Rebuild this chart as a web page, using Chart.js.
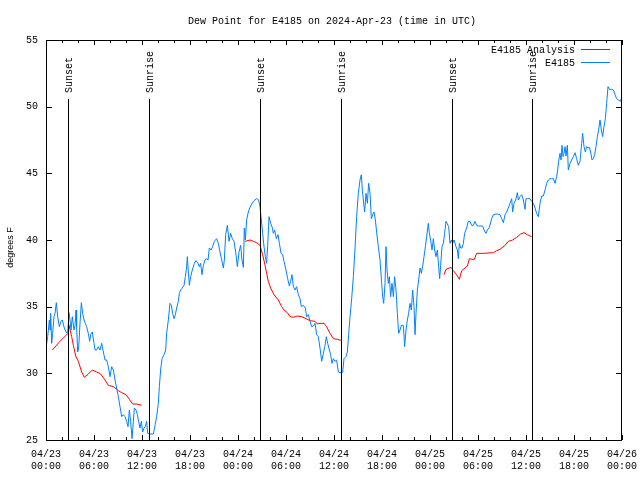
<!DOCTYPE html>
<html>
<head>
<meta charset="utf-8">
<script src="https://cdn.jsdelivr.net/npm/chart.js@4.4.1/dist/chart.umd.min.js"></script>
<style>
html,body{margin:0;padding:0;background:#fff;}
#wrap{width:640px;height:480px;position:relative;}
</style>
</head>
<body>
<div id="wrap"><canvas id="c" width="640" height="480"></canvas></div>
<script>
// ---- text ----
const chartTitle = "Dew Point for E4185 on 2024-Apr-23 (time in UTC)";
const yAxisTitle = "degrees F";
const seriesNames = ["E4185 Analysis", "E4185"];
const seriesColors = ["#ff0000", "#0080ff"];

// x axis: hours since 04/23 00:00 UTC
const xTickLabels = [
  ["04/23","00:00"],["04/23","06:00"],["04/23","12:00"],["04/23","18:00"],
  ["04/24","00:00"],["04/24","06:00"],["04/24","12:00"],["04/24","18:00"],
  ["04/25","00:00"],["04/25","06:00"],["04/25","12:00"],["04/25","18:00"],
  ["04/26","00:00"]
];
const yTickValues = [25, 30, 35, 40, 45, 50, 55];

// sunrise / sunset markers (hours)
const sunHours  = [2.79, 12.92, 26.79, 36.92, 50.79, 60.79];
const sunLabels = ["Sunset","Sunrise","Sunset","Sunrise","Sunset","Sunrise"];

// observed dew point (E4185)
const obsHours = [
0.0,0.21,0.42,0.5,0.58,0.71,0.83,1.0,1.13,1.29,1.46,1.67,1.88,2.04,2.29,2.5,2.71,2.88,3.0,3.13,3.29,3.5,3.63,3.75,3.83,3.96,4.08,4.25,4.42,4.58,4.75,4.92,5.08,5.29,5.46,5.58,5.79,6.0,6.13,6.33,6.54,6.75,6.96,7.17,7.38,7.58,7.79,8.0,8.21,8.42,8.63,8.83,9.04,9.25,9.46,9.67,9.88,10.08,10.25,10.42,10.58,10.75,10.92,11.04,11.25,11.42,11.58,11.75,11.92,12.08,12.25,12.42,12.58,12.71,13.0,13.42,13.63,13.83,14.04,14.17,14.33,14.5,14.75,14.96,15.08,15.29,15.5,15.67,15.83,16.0,16.17,16.33,16.54,16.67,16.83,17.04,17.25,17.42,17.58,17.67,17.79,17.92,18.08,18.29,18.54,18.75,19.0,19.17,19.33,19.5,19.67,19.88,20.04,
20.25,20.42,20.63,20.83,21.04,21.33,21.54,21.75,21.96,22.17,22.29,22.46,22.67,22.88,23.08,23.29,23.5,23.71,23.92,24.13,24.33,24.5,24.67,24.79,24.92,25.08,25.29,25.5,25.71,26.0,26.33,26.58,26.75,26.92,27.08,27.25,27.42,27.58,27.71,27.88,28.08,28.25,28.42,28.58,28.79,29.0,29.17,29.38,29.58,29.75,30.0,30.21,30.42,30.58,30.75,30.92,31.13,31.33,31.54,31.75,31.92,32.17,32.42,32.58,32.79,33.0,33.21,33.42,33.63,33.83,34.04,34.25,34.46,34.67,34.88,35.04,35.21,35.42,35.58,35.75,35.92,36.13,36.33,36.54,36.75,37.08,37.25,37.5,37.67,37.83,38.0,38.21,38.42,38.63,38.83,
39.04,39.25,39.42,39.54,39.67,39.83,40.0,40.17,40.33,40.5,40.67,40.83,41.0,41.17,41.33,41.54,41.75,41.96,42.08,42.21,42.38,42.5,42.63,42.79,42.92,43.08,43.25,43.42,43.58,43.75,43.92,44.08,44.25,44.42,44.67,44.83,45.0,45.17,45.33,45.5,45.67,45.83,46.0,46.13,46.25,46.42,46.58,46.75,46.92,47.08,47.25,47.42,47.58,47.79,47.92,48.08,48.25,48.42,48.58,48.75,48.92,49.08,49.21,49.33,49.5,49.67,49.83,50.0,50.17,50.33,50.5,50.67,50.83,51.0,51.25,51.42,51.54,51.67,51.83,52.0,52.17,52.33,52.58,52.79,53.0,53.21,53.42,53.63,53.83,54.04,54.25,54.58,54.75,55.0,55.17,55.42,
55.71,55.92,56.33,56.75,56.96,57.17,57.38,57.58,57.79,58.0,58.21,58.33,58.5,58.71,58.92,59.04,59.25,59.46,59.67,59.88,60.0,60.17,60.5,60.71,60.92,61.13,61.33,61.54,61.75,61.96,62.17,62.38,62.58,62.79,63.0,63.21,63.42,63.63,63.83,63.96,64.08,64.25,64.38,64.5,64.63,64.75,64.88,65.0,65.17,65.29,65.5,65.71,65.92,66.13,66.33,66.54,66.75,66.96,67.08,67.25,67.42,67.58,67.75,67.92,68.08,68.25,68.42,68.58,68.75,68.92,69.08,69.25,69.42,69.58,69.75,69.92,70.08,70.25,70.42,70.71,70.92,71.13,71.33,71.54,71.79,71.92
];
const obsValues = [
31.9,32.75,34.0,33.25,34.5,32.25,33.0,34.25,34.5,35.3,34.25,33.5,33.9,34.0,33.4,33.1,33.0,34.55,34.0,33.25,34.25,33.25,33.6,34.75,33.5,31.6,31.9,33.75,35.3,34.5,34.0,33.75,33.5,33.0,32.4,32.9,33.1,32.25,31.75,31.75,32.0,31.75,32.25,31.6,31.0,31.0,30.5,29.75,30.5,30.25,29.5,28.9,28.25,27.5,26.75,26.9,26.75,26.4,26.0,27.25,26.4,25.1,26.4,27.4,27.25,26.9,26.4,25.9,26.4,25.6,25.9,26.0,26.4,25.5,25.45,25.45,26.1,26.75,27.75,29.0,30.25,31.1,31.4,31.75,33.0,34.0,35.25,35.1,34.5,34.1,34.4,34.9,35.4,36.0,36.25,36.4,36.6,37.25,38.0,38.75,37.6,36.6,37.25,37.75,38.25,38.45,38.25,38.0,38.25,37.4,38.1,38.5,38.6,
38.5,39.4,39.25,39.5,39.9,40.1,39.75,39.1,38.5,37.9,38.5,40.4,41.1,39.9,40.5,40.1,39.9,39.1,38.0,39.1,39.6,38.5,37.95,40.9,40.0,41.5,42.1,42.45,42.7,42.95,43.1,43.0,42.5,41.5,40.5,39.5,38.75,38.25,39.6,41.75,41.25,41.0,40.5,40.75,40.1,40.4,39.75,39.0,38.9,38.4,37.75,37.1,36.55,36.9,37.4,36.5,36.25,36.5,35.9,35.6,35.0,35.1,34.9,34.25,34.4,33.9,33.5,33.55,33.75,32.9,32.75,31.9,30.9,31.5,32.1,32.75,32.25,31.75,31.4,30.75,31.1,30.9,31.0,30.1,30.05,30.05,31.1,31.25,31.6,32.9,34.25,35.6,37.25,39.4,41.75,
43.5,44.5,44.9,43.75,43.0,42.1,43.5,42.75,44.25,43.5,41.6,41.9,42.1,41.5,40.6,39.5,38.5,36.75,35.75,35.25,36.75,39.5,37.75,36.75,37.25,35.75,36.75,35.75,37.25,36.25,34.5,33.0,33.25,33.6,33.6,32.0,33.25,34.0,34.5,35.25,34.75,36.25,35.0,32.9,34.5,36.25,37.0,37.9,37.5,38.0,38.75,39.5,40.25,41.25,40.5,40.0,39.25,40.1,39.25,38.75,39.25,38.0,37.1,38.1,39.5,39.75,40.5,41.4,41.2,41.0,39.75,40.0,39.75,40.0,39.5,39.25,38.6,39.75,39.4,39.4,39.75,40.5,40.9,41.4,41.4,41.1,41.1,41.4,41.1,41.05,41.05,41.05,40.75,40.5,40.75,40.95,
41.6,41.9,41.95,41.9,41.6,41.3,41.9,42.1,42.4,42.75,43.1,42.1,42.75,43.0,43.55,43.0,43.25,43.4,43.0,42.3,43.1,43.1,43.1,42.9,42.75,42.4,42.0,41.75,42.75,43.3,43.3,43.75,44.25,44.5,44.6,44.6,44.6,44.25,44.75,45.25,45.9,46.5,46.0,47.1,46.25,46.5,47.0,46.3,47.1,45.25,45.75,46.0,46.25,46.55,46.1,45.6,45.9,47.25,48.0,47.0,46.6,47.0,46.9,46.95,46.6,46.0,46.1,46.4,47.0,47.75,48.25,49.0,48.25,47.75,48.5,49.1,50.25,51.5,51.3,51.3,51.25,50.9,50.6,50.5,50.4,50.6
];

// analysis dew point (E4185 Analysis); null marks a gap
const anaHours = [
0.79,1.75,2.75,2.88,3.21,3.42,3.71,4.04,4.46,4.79,5.29,5.79,6.33,6.83,7.38,7.79,8.42,9.04,9.46,10.0,10.42,10.83,11.33,11.96,
18.0,
24.88,25.5,25.92,26.33,26.75,27.08,27.38,27.58,27.79,28.08,28.5,29.04,29.46,29.75,30.17,30.5,30.92,31.42,31.96,32.5,33.0,33.63,33.92,34.25,34.75,35.08,35.5,35.92,36.42,36.96,
43.0,
49.75,50.0,50.63,50.92,51.33,51.67,51.96,52.38,52.67,52.92,53.25,53.54,53.83,54.67,55.92,56.33,56.75,57.38,57.79,58.33,58.83,59.33,59.75,60.17,60.5,60.71
];
const anaValues = [
31.75,32.4,33.0,33.6,32.75,32.1,31.3,30.9,30.1,29.7,29.95,30.25,30.1,29.95,29.5,29.1,29.0,28.7,28.55,28.4,28.05,27.7,27.7,27.6,
null,
39.9,40.0,39.9,39.8,39.6,38.9,38.1,37.5,36.9,36.4,35.9,35.5,35.0,34.75,34.55,34.25,34.2,34.3,34.25,34.1,33.95,33.9,33.7,33.75,33.75,33.5,33.0,32.6,32.55,32.45,
null,
37.4,37.8,37.95,37.7,37.4,37.05,37.7,37.9,38.05,38.6,38.55,38.55,39.0,39.0,39.05,39.2,39.3,39.6,39.9,40.0,40.2,40.45,40.55,40.4,40.3,40.25
];

const MONO = "'Liberation Mono', 'DejaVu Sans Mono', monospace";
const SANS = "'Liberation Sans', Arial, sans-serif";

const toXY = (xs, ys) => xs.map((x, i) => ({x: x, y: ys[i]}));

const decorPlugin = {
  id: 'decor',
  afterDatasetsDraw(chart) {
    const ctx = chart.ctx;
    const xs = chart.scales.x, ys = chart.scales.y;
    const L = Math.round(xs.left), R = Math.round(xs.right);
    const T = Math.round(ys.top), B = Math.round(ys.bottom);
    ctx.save();
    ctx.strokeStyle = '#000';
    ctx.lineWidth = 1;
    // sunrise / sunset lines
    ctx.fillStyle = '#000';
    ctx.font = '10px ' + MONO;
    sunHours.forEach((h, i) => {
      const px = Math.round(xs.getPixelForValue(h)) + 0.5;
      ctx.beginPath();
      ctx.moveTo(px, 99);
      ctx.lineTo(px, B);
      ctx.stroke();
      ctx.save();
      ctx.translate(px + 0.5, 93);
      ctx.rotate(-Math.PI / 2);
      ctx.textAlign = 'left';
      ctx.textBaseline = 'middle';
      ctx.fillText(sunLabels[i], 0, 0);
      ctx.restore();
    });
    // frame
    ctx.beginPath();
    ctx.rect(L + 0.5, T + 0.5, R - L - 1, B - T);
    ctx.stroke();
    // x ticks (major every 6 h, minor every 2 h), bottom and top, inward
    ctx.beginPath();
    for (let h = 0; h <= 72; h += 2) {
      const px = Math.round(xs.getPixelForValue(h)) + 0.5;
      const len = (h % 6 === 0) ? 5 : 3;
      ctx.moveTo(px, B); ctx.lineTo(px, B - len);
      ctx.moveTo(px, T); ctx.lineTo(px, T + len);
    }
    // y ticks, left and right, inward
    yTickValues.forEach(v => {
      const py = Math.round(ys.getPixelForValue(v)) + 0.5;
      ctx.moveTo(L, py); ctx.lineTo(L + 6, py);
      ctx.moveTo(R, py); ctx.lineTo(R - 6, py);
    });
    ctx.stroke();
    // legend
    ctx.font = '10px ' + MONO;
    ctx.textAlign = 'right';
    ctx.textBaseline = 'middle';
    const legY = [50, 63];
    seriesNames.forEach((name, i) => {
      ctx.fillStyle = '#000';
      ctx.fillText(name, 575, legY[i]);
      ctx.strokeStyle = seriesColors[i];
      ctx.beginPath();
      ctx.moveTo(581, legY[i] - 0.5);
      ctx.lineTo(610, legY[i] - 0.5);
      ctx.stroke();
    });
    // title
    ctx.fillStyle = '#000';
    ctx.textAlign = 'center';
    ctx.textBaseline = 'middle';
    ctx.font = '10px ' + MONO;
    ctx.fillText(chartTitle, 332, 21);
    // y axis title
    ctx.save();
    ctx.translate(13, 247.5);
    ctx.rotate(-Math.PI / 2);
    ctx.font = '9px ' + SANS;
    ctx.textAlign = 'center';
    ctx.textBaseline = 'alphabetic';
    ctx.fillText(yAxisTitle, 0, 0);
    ctx.restore();
    ctx.restore();
  }
};

new Chart(document.getElementById('c'), {
  type: 'line',
  data: {
    datasets: [
      {
        label: seriesNames[1],
        data: toXY(obsHours, obsValues),
        borderColor: seriesColors[1],
        backgroundColor: seriesColors[1],
        borderWidth: 1,
        pointRadius: 0,
        tension: 0,
        fill: false
      },
      {
        label: seriesNames[0],
        data: toXY(anaHours, anaValues),
        borderColor: seriesColors[0],
        backgroundColor: seriesColors[0],
        borderWidth: 1,
        pointRadius: 0,
        tension: 0,
        fill: false,
        spanGaps: false
      }
    ]
  },
  options: {
    responsive: false,
    animation: false,
    devicePixelRatio: 1,
    layout: { autoPadding: false, padding: { top: 40, right: 18, bottom: 0, left: 0 } },
    plugins: {
      legend: { display: false },
      title: { display: false },
      tooltip: { enabled: false }
    },
    scales: {
      x: {
        type: 'linear',
        min: 0,
        max: 72,
        grid: { display: false, drawTicks: false },
        border: { display: false },
        ticks: {
          stepSize: 6,
          autoSkip: false,
          maxRotation: 0,
          minRotation: 0,
          padding: 8,
          color: '#000',
          font: { family: MONO, size: 10 },
          callback: (v) => xTickLabels[Math.round(v / 6)]
        },
        afterFit: (s) => { s.height = 40; s.paddingLeft = 0; s.paddingRight = 0; }
      },
      y: {
        min: 25,
        max: 55,
        grid: { display: false, drawTicks: false },
        border: { display: false },
        ticks: {
          stepSize: 5,
          padding: 8,
          color: '#000',
          font: { family: MONO, size: 10 }
        },
        afterFit: (s) => { s.width = 46; s.paddingTop = 0; s.paddingBottom = 0; }
      }
    }
  },
  plugins: [decorPlugin]
});
</script>
</body>
</html>
